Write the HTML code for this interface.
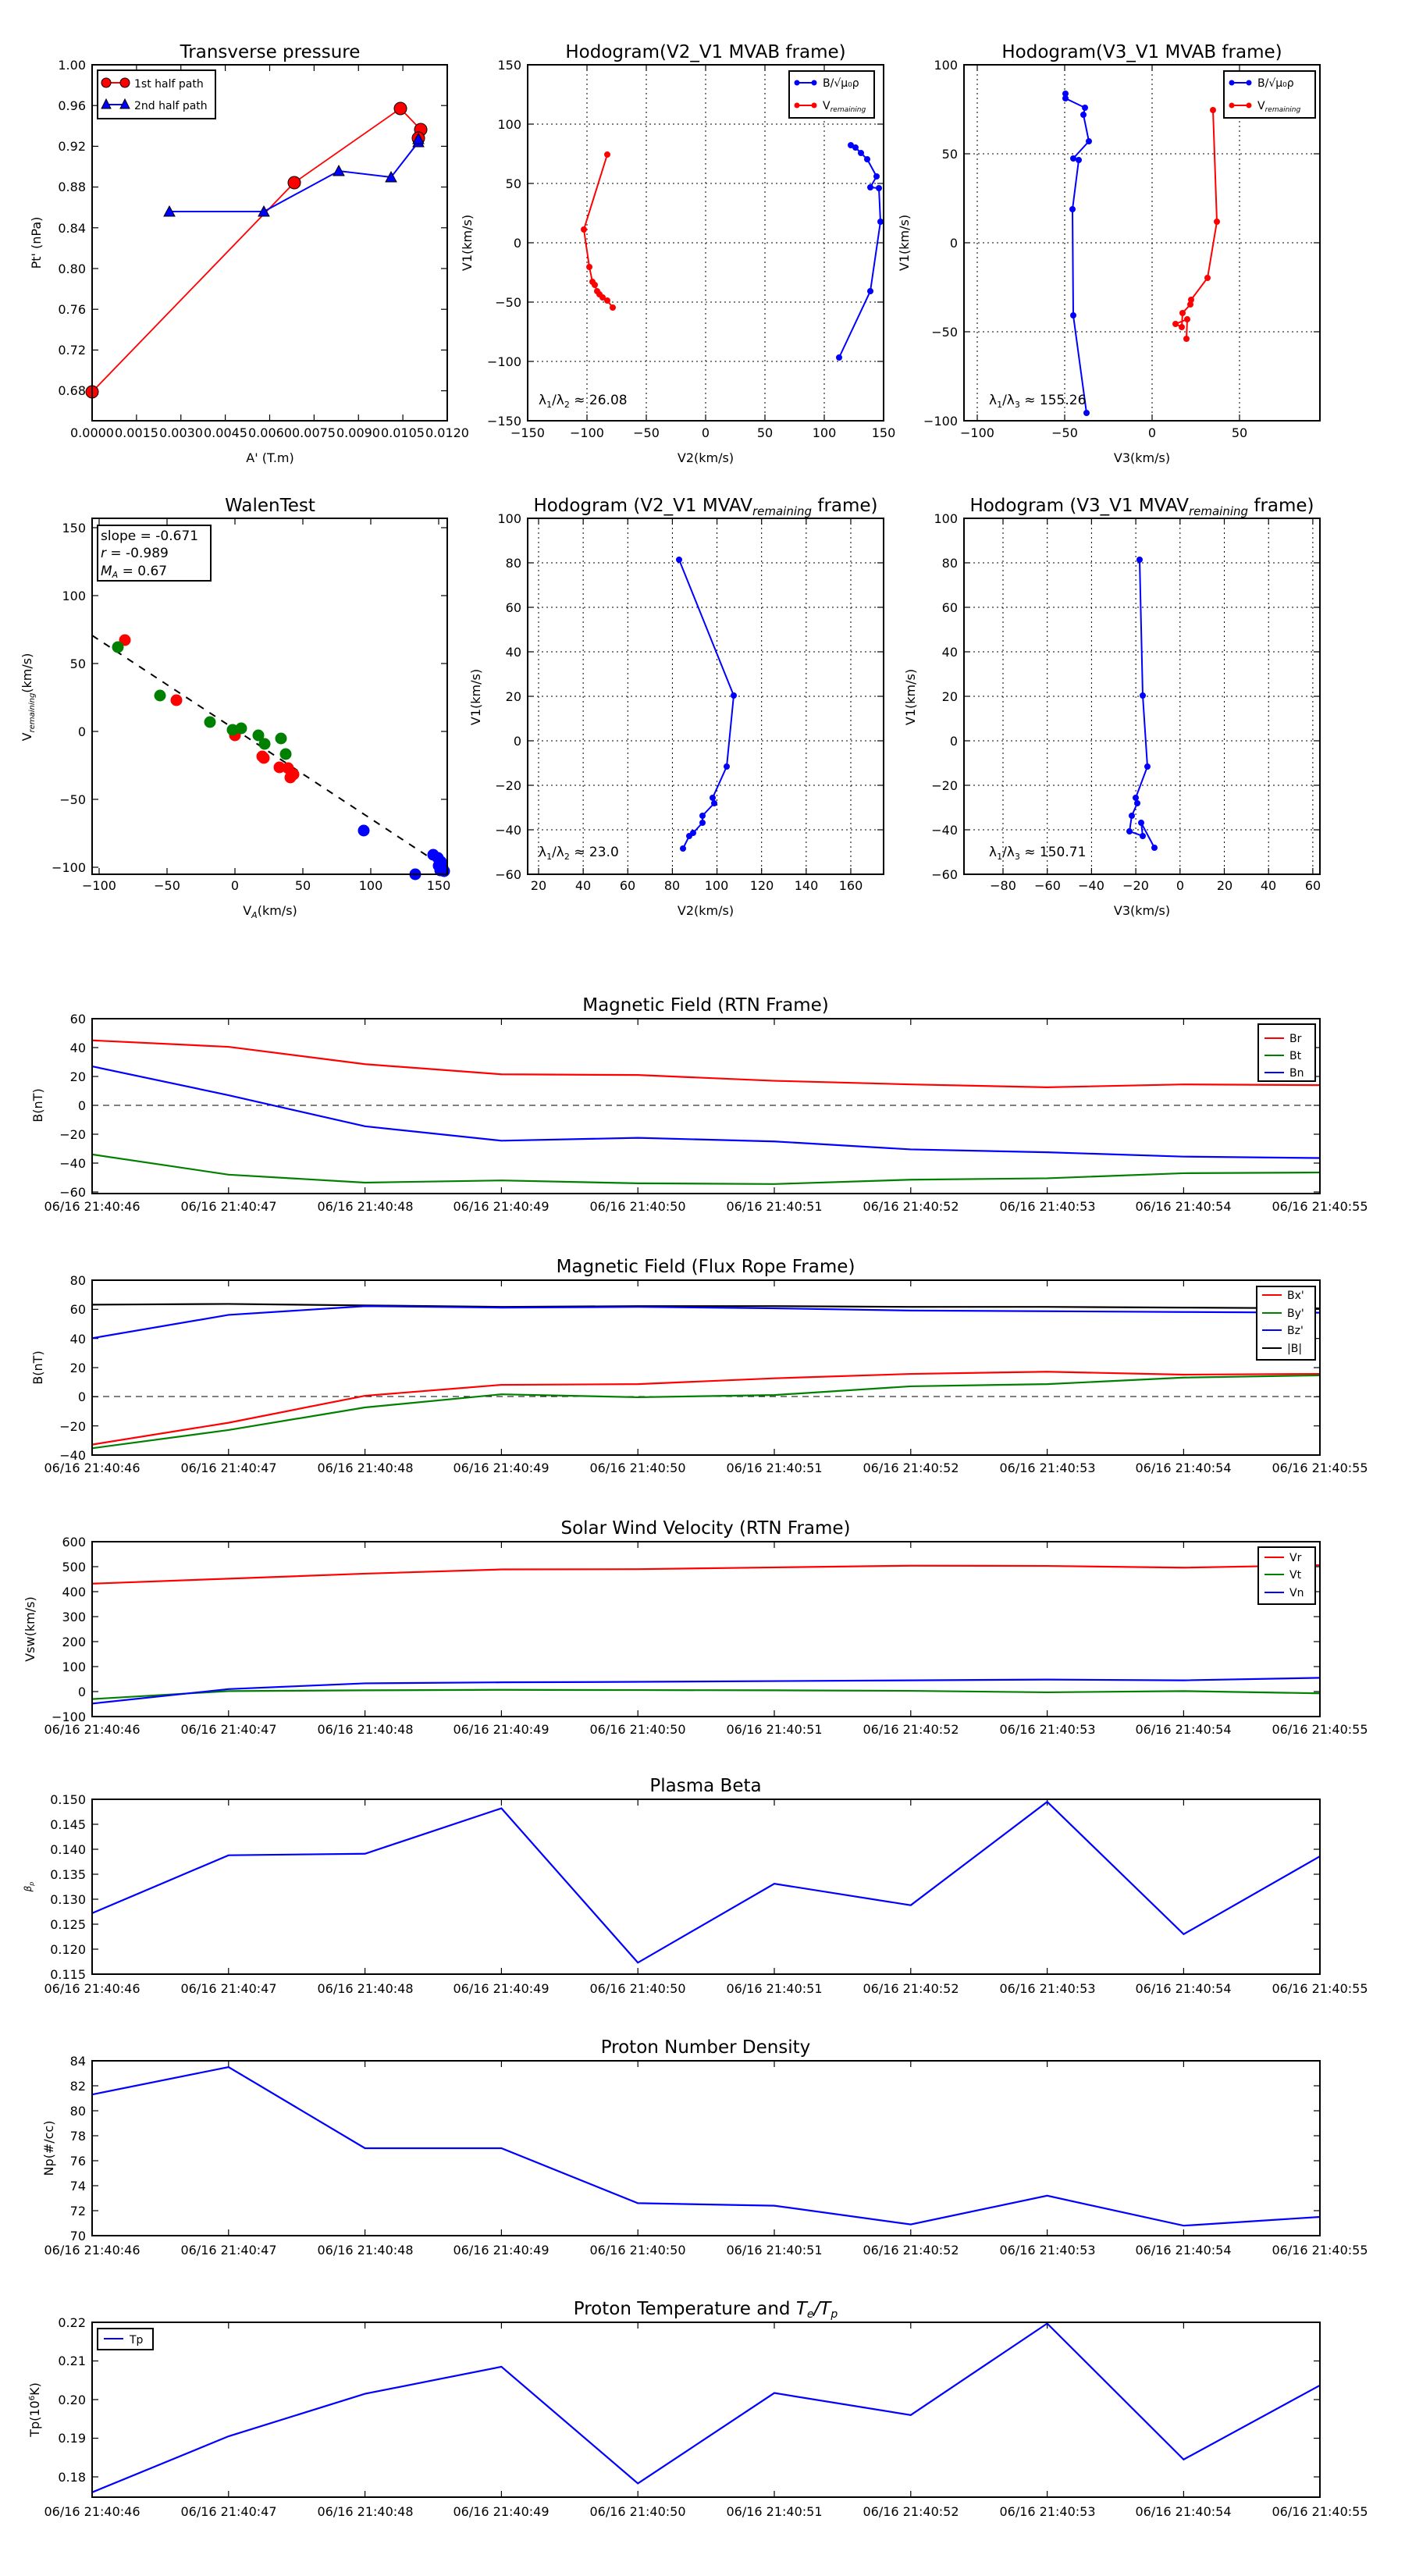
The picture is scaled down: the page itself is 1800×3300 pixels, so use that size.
<!DOCTYPE html>
<html><head><meta charset="utf-8">
<style>
html,body{margin:0;padding:0;background:#fff;}
svg{display:block;font-family:"DejaVu Sans","Liberation Sans",sans-serif;}
.t{font-size:16px;fill:#000;}
.ti{font-size:23px;fill:#000;text-anchor:middle;}
.lb{font-size:16px;fill:#000;text-anchor:middle;}
.r{text-anchor:end;}
.m{text-anchor:middle;}
</style></head>
<body>
<svg id="s" width="1800" height="3300" viewBox="0 0 1800 3300" xmlns="http://www.w3.org/2000/svg">
<rect width="1800" height="3300" fill="#fff"/>
<g id="shapes"></g>

<!-- ===== Row 1 ===== -->
<text class="ti" x="346" y="74">Transverse pressure</text>
<text class="ti" x="904" y="74">Hodogram(V2_V1 MVAB frame)</text>
<text class="ti" x="1463" y="74">Hodogram(V3_V1 MVAB frame)</text>

<!-- chart1 ticks -->
<g class="t r">
<text x="110" y="89">1.00</text><text x="110" y="141">0.96</text><text x="110" y="193">0.92</text>
<text x="110" y="245">0.88</text><text x="110" y="298">0.84</text><text x="110" y="350">0.80</text>
<text x="110" y="402">0.76</text><text x="110" y="454">0.72</text><text x="110" y="506">0.68</text>
</g>
<g class="t m">
<text x="118" y="560">0.0000</text><text x="175" y="560">0.0015</text><text x="232" y="560">0.0030</text>
<text x="289" y="560">0.0045</text><text x="346" y="560">0.0060</text><text x="402" y="560">0.0075</text>
<text x="459" y="560">0.0090</text><text x="516" y="560">0.0105</text><text x="573" y="560">0.0120</text>
</g>
<text class="lb" x="346" y="592">A' (T.m)</text>
<text class="lb" transform="translate(52,311) rotate(-90)">Pt' (nPa)</text>
<rect x="125" y="90" width="151" height="62" fill="#fff" stroke="#000" stroke-width="2"/>
<line x1="133" y1="106" x2="163" y2="106" stroke="red" stroke-width="2"/>
<circle cx="136" cy="106" r="6" fill="red" stroke="#000"/><circle cx="160" cy="106" r="6" fill="red" stroke="#000"/>
<text x="172" y="112" style="font-size:14px">1st half path</text>
<line x1="133" y1="134" x2="163" y2="134" stroke="blue" stroke-width="2"/>
<polygon points="136,127 142,139 130,139" fill="blue" stroke="#000"/><polygon points="160,127 166,139 154,139" fill="blue" stroke="#000"/>
<text x="172" y="140" style="font-size:14px">2nd half path</text>

<!-- chart2 -->
<g class="t r">
<text x="668" y="89">150</text><text x="668" y="165">100</text><text x="668" y="241">50</text>
<text x="668" y="317">0</text><text x="668" y="393">−50</text><text x="668" y="469">−100</text><text x="668" y="545">−150</text>
</g>
<g class="t m">
<text x="676" y="560">−150</text><text x="752" y="560">−100</text><text x="828" y="560">−50</text><text x="904" y="560">0</text>
<text x="980" y="560">50</text><text x="1056" y="560">100</text><text x="1132" y="560">150</text>
</g>
<text class="lb" x="904" y="592">V2(km/s)</text>
<text class="lb" transform="translate(604,311) rotate(-90)">V1(km/s)</text>
<text x="690" y="518" style="font-size:17px">λ<tspan style="font-size:11px" dy="4">1</tspan><tspan dy="-4">/λ</tspan><tspan style="font-size:11px" dy="4">2</tspan><tspan dy="-4"> ≈ 26.08</tspan></text>
<rect x="1011" y="91" width="109" height="60" fill="#fff" stroke="#000" stroke-width="2"/>
<line x1="1019" y1="106" x2="1045" y2="106" stroke="blue" stroke-width="2"/><circle cx="1021" cy="106" r="3.5" fill="blue"/><circle cx="1043" cy="106" r="3.5" fill="blue"/>
<text x="1054" y="111" style="font-size:14px">B/√μ₀ρ</text>
<line x1="1019" y1="135" x2="1045" y2="135" stroke="red" stroke-width="2"/><circle cx="1021" cy="135" r="3.5" fill="red"/><circle cx="1043" cy="135" r="3.5" fill="red"/>
<text x="1054" y="140" style="font-size:14px">V<tspan style="font-size:9px;font-style:italic" dy="3">remaining</tspan></text>

<!-- chart3 -->
<g class="t r">
<text x="1227" y="89">100</text><text x="1227" y="203">50</text><text x="1227" y="317">0</text>
<text x="1227" y="431">−50</text><text x="1227" y="545">−100</text>
</g>
<g class="t m">
<text x="1252" y="560">−100</text><text x="1364" y="560">−50</text><text x="1476" y="560">0</text><text x="1588" y="560">50</text>
</g>
<text class="lb" x="1463" y="592">V3(km/s)</text>
<text class="lb" transform="translate(1164,311) rotate(-90)">V1(km/s)</text>
<text x="1267" y="518" style="font-size:17px">λ<tspan style="font-size:11px" dy="4">1</tspan><tspan dy="-4">/λ</tspan><tspan style="font-size:11px" dy="4">3</tspan><tspan dy="-4"> ≈ 155.26</tspan></text>
<rect x="1568" y="91" width="117" height="60" fill="#fff" stroke="#000" stroke-width="2"/>
<line x1="1576" y1="106" x2="1602" y2="106" stroke="blue" stroke-width="2"/><circle cx="1578" cy="106" r="3.5" fill="blue"/><circle cx="1600" cy="106" r="3.5" fill="blue"/>
<text x="1611" y="111" style="font-size:14px">B/√μ₀ρ</text>
<line x1="1576" y1="135" x2="1602" y2="135" stroke="red" stroke-width="2"/><circle cx="1578" cy="135" r="3.5" fill="red"/><circle cx="1600" cy="135" r="3.5" fill="red"/>
<text x="1611" y="140" style="font-size:14px">V<tspan style="font-size:9px;font-style:italic" dy="3">remaining</tspan></text>

<!-- ===== Row 2 ===== -->
<text class="ti" x="346" y="655">WalenTest</text>
<text class="ti" x="904" y="655">Hodogram (V2_V1 MVAV<tspan style="font-size:15px;font-style:italic" dy="5">remaining</tspan><tspan dy="-5"> frame)</tspan></text>
<text class="ti" x="1463" y="655">Hodogram (V3_V1 MVAV<tspan style="font-size:15px;font-style:italic" dy="5">remaining</tspan><tspan dy="-5"> frame)</tspan></text>

<g class="t r">
<text x="110" y="682">150</text><text x="110" y="769">100</text><text x="110" y="856">50</text>
<text x="110" y="943">0</text><text x="110" y="1030">−50</text><text x="110" y="1117">−100</text>
</g>
<g class="t m">
<text x="127" y="1140">−100</text><text x="214" y="1140">−50</text><text x="301" y="1140">0</text>
<text x="388" y="1140">50</text><text x="475" y="1140">100</text><text x="562" y="1140">150</text>
</g>
<text class="lb" x="346" y="1172">V<tspan style="font-size:11px;font-style:italic" dy="4">A</tspan><tspan dy="-4">(km/s)</tspan></text>
<text class="lb" transform="translate(40,893) rotate(-90)">V<tspan style="font-size:10px;font-style:italic" dy="4">remaining</tspan><tspan dy="-4">(km/s)</tspan></text>
<rect x="125" y="673" width="145" height="71" fill="#fff" stroke="#000" stroke-width="2"/>
<text x="129" y="692" style="font-size:17px">slope = -0.671</text>
<text x="129" y="714" style="font-size:17px"><tspan style="font-style:italic">r</tspan> = -0.989</text>
<text x="129" y="737" style="font-size:17px"><tspan style="font-style:italic">M<tspan style="font-size:11px" dy="3">A</tspan></tspan><tspan dy="-3"> = 0.67</tspan></text>

<g class="t r">
<text x="668" y="670">100</text><text x="668" y="727">80</text><text x="668" y="784">60</text><text x="668" y="841">40</text>
<text x="668" y="898">20</text><text x="668" y="955">0</text><text x="668" y="1012">−20</text><text x="668" y="1069">−40</text><text x="668" y="1126">−60</text>
</g>
<g class="t m">
<text x="690" y="1140">20</text><text x="747" y="1140">40</text><text x="804" y="1140">60</text><text x="861" y="1140">80</text>
<text x="918" y="1140">100</text><text x="976" y="1140">120</text><text x="1033" y="1140">140</text><text x="1090" y="1140">160</text>
</g>
<text class="lb" x="904" y="1172">V2(km/s)</text>
<text class="lb" transform="translate(615,893) rotate(-90)">V1(km/s)</text>
<text x="690" y="1097" style="font-size:17px">λ<tspan style="font-size:11px" dy="4">1</tspan><tspan dy="-4">/λ</tspan><tspan style="font-size:11px" dy="4">2</tspan><tspan dy="-4"> ≈ 23.0</tspan></text>

<g class="t r">
<text x="1227" y="670">100</text><text x="1227" y="727">80</text><text x="1227" y="784">60</text><text x="1227" y="841">40</text>
<text x="1227" y="898">20</text><text x="1227" y="955">0</text><text x="1227" y="1012">−20</text><text x="1227" y="1069">−40</text><text x="1227" y="1126">−60</text>
</g>
<g class="t m">
<text x="1285" y="1140">−80</text><text x="1342" y="1140">−60</text><text x="1398" y="1140">−40</text><text x="1455" y="1140">−20</text>
<text x="1512" y="1140">0</text><text x="1569" y="1140">20</text><text x="1625" y="1140">40</text><text x="1682" y="1140">60</text>
</g>
<text class="lb" x="1463" y="1172">V3(km/s)</text>
<text class="lb" transform="translate(1172,893) rotate(-90)">V1(km/s)</text>
<text x="1267" y="1097" style="font-size:17px">λ<tspan style="font-size:11px" dy="4">1</tspan><tspan dy="-4">/λ</tspan><tspan style="font-size:11px" dy="4">3</tspan><tspan dy="-4"> ≈ 150.71</tspan></text>

<!-- ===== Time series ===== -->
<text class="ti" x="904" y="1295">Magnetic Field (RTN Frame)</text>
<text class="ti" x="904" y="1630">Magnetic Field (Flux Rope Frame)</text>
<text class="ti" x="904" y="1965">Solar Wind Velocity (RTN Frame)</text>
<text class="ti" x="904" y="2295">Plasma Beta</text>
<text class="ti" x="904" y="2630">Proton Number Density</text>
<text class="ti" x="904" y="2965">Proton Temperature and <tspan style="font-style:italic">T<tspan style="font-size:14px" dy="4">e</tspan><tspan dy="-4">/T</tspan><tspan style="font-size:14px" dy="4">p</tspan></tspan></text>

<g class="t r">
<text x="110" y="1311">60</text><text x="110" y="1348">40</text><text x="110" y="1385">20</text><text x="110" y="1422">0</text>
<text x="110" y="1459">−20</text><text x="110" y="1496">−40</text><text x="110" y="1533">−60</text>

<text x="110" y="1646">80</text><text x="110" y="1683">60</text><text x="110" y="1721">40</text><text x="110" y="1758">20</text>
<text x="110" y="1795">0</text><text x="110" y="1833">−20</text><text x="110" y="1870">−40</text>

<text x="110" y="1981">600</text><text x="110" y="2013">500</text><text x="110" y="2045">400</text><text x="110" y="2077">300</text>
<text x="110" y="2109">200</text><text x="110" y="2141">100</text><text x="110" y="2173">0</text><text x="110" y="2205">−100</text>

<text x="110" y="2311">0.150</text><text x="110" y="2343">0.145</text><text x="110" y="2375">0.140</text><text x="110" y="2407">0.135</text>
<text x="110" y="2439">0.130</text><text x="110" y="2471">0.125</text><text x="110" y="2503">0.120</text><text x="110" y="2535">0.115</text>

<text x="110" y="2646">84</text><text x="110" y="2678">82</text><text x="110" y="2710">80</text><text x="110" y="2742">78</text>
<text x="110" y="2774">76</text><text x="110" y="2806">74</text><text x="110" y="2838">72</text><text x="110" y="2870">70</text>

<text x="110" y="2981">0.22</text><text x="110" y="3030">0.21</text><text x="110" y="3080">0.20</text>
<text x="110" y="3129">0.19</text><text x="110" y="3179">0.18</text>
</g>

<g class="t m">
<g id="xl1">
<text x="118" y="1551">06/16 21:40:46</text><text x="293" y="1551">06/16 21:40:47</text><text x="468" y="1551">06/16 21:40:48</text>
<text x="642" y="1551">06/16 21:40:49</text><text x="817" y="1551">06/16 21:40:50</text><text x="992" y="1551">06/16 21:40:51</text>
<text x="1167" y="1551">06/16 21:40:52</text><text x="1342" y="1551">06/16 21:40:53</text><text x="1516" y="1551">06/16 21:40:54</text>
<text x="1691" y="1551">06/16 21:40:55</text>
</g>
<g transform="translate(0,335)">
<text x="118" y="1551">06/16 21:40:46</text><text x="293" y="1551">06/16 21:40:47</text><text x="468" y="1551">06/16 21:40:48</text>
<text x="642" y="1551">06/16 21:40:49</text><text x="817" y="1551">06/16 21:40:50</text><text x="992" y="1551">06/16 21:40:51</text>
<text x="1167" y="1551">06/16 21:40:52</text><text x="1342" y="1551">06/16 21:40:53</text><text x="1516" y="1551">06/16 21:40:54</text>
<text x="1691" y="1551">06/16 21:40:55</text>
</g>
<g transform="translate(0,670)">
<text x="118" y="1551">06/16 21:40:46</text><text x="293" y="1551">06/16 21:40:47</text><text x="468" y="1551">06/16 21:40:48</text>
<text x="642" y="1551">06/16 21:40:49</text><text x="817" y="1551">06/16 21:40:50</text><text x="992" y="1551">06/16 21:40:51</text>
<text x="1167" y="1551">06/16 21:40:52</text><text x="1342" y="1551">06/16 21:40:53</text><text x="1516" y="1551">06/16 21:40:54</text>
<text x="1691" y="1551">06/16 21:40:55</text>
</g>
<g transform="translate(0,1002)">
<text x="118" y="1551">06/16 21:40:46</text><text x="293" y="1551">06/16 21:40:47</text><text x="468" y="1551">06/16 21:40:48</text>
<text x="642" y="1551">06/16 21:40:49</text><text x="817" y="1551">06/16 21:40:50</text><text x="992" y="1551">06/16 21:40:51</text>
<text x="1167" y="1551">06/16 21:40:52</text><text x="1342" y="1551">06/16 21:40:53</text><text x="1516" y="1551">06/16 21:40:54</text>
<text x="1691" y="1551">06/16 21:40:55</text>
</g>
<g transform="translate(0,1337)">
<text x="118" y="1551">06/16 21:40:46</text><text x="293" y="1551">06/16 21:40:47</text><text x="468" y="1551">06/16 21:40:48</text>
<text x="642" y="1551">06/16 21:40:49</text><text x="817" y="1551">06/16 21:40:50</text><text x="992" y="1551">06/16 21:40:51</text>
<text x="1167" y="1551">06/16 21:40:52</text><text x="1342" y="1551">06/16 21:40:53</text><text x="1516" y="1551">06/16 21:40:54</text>
<text x="1691" y="1551">06/16 21:40:55</text>
</g>
<g transform="translate(0,1672)">
<text x="118" y="1551">06/16 21:40:46</text><text x="293" y="1551">06/16 21:40:47</text><text x="468" y="1551">06/16 21:40:48</text>
<text x="642" y="1551">06/16 21:40:49</text><text x="817" y="1551">06/16 21:40:50</text><text x="992" y="1551">06/16 21:40:51</text>
<text x="1167" y="1551">06/16 21:40:52</text><text x="1342" y="1551">06/16 21:40:53</text><text x="1516" y="1551">06/16 21:40:54</text>
<text x="1691" y="1551">06/16 21:40:55</text>
</g>
</g>

<text class="lb" transform="translate(54,1416) rotate(-90)">B(nT)</text>
<text class="lb" transform="translate(54,1752) rotate(-90)">B(nT)</text>
<text class="lb" transform="translate(44,2087) rotate(-90)">Vsw(km/s)</text>
<text class="lb" transform="translate(40,2417) rotate(-90)" style="font-size:12px;font-style:italic">β<tspan style="font-size:8px" dy="3">p</tspan></text>
<text class="lb" transform="translate(68,2752) rotate(-90)">Np(#/cc)</text>
<text class="lb" transform="translate(50,3087) rotate(-90)">Tp(10<tspan style="font-size:10px" dy="-6">6</tspan><tspan dy="6">K)</tspan></text>

<!-- legends -->
<rect x="1612" y="1312" width="73" height="73" fill="#fff" stroke="#000" stroke-width="2"/>
<line x1="1620" y1="1330" x2="1645" y2="1330" stroke="red" stroke-width="2"/><text x="1652" y="1335" style="font-size:14px">Br</text>
<line x1="1620" y1="1352" x2="1645" y2="1352" stroke="green" stroke-width="2"/><text x="1652" y="1357" style="font-size:14px">Bt</text>
<line x1="1620" y1="1374" x2="1645" y2="1374" stroke="blue" stroke-width="2"/><text x="1652" y="1379" style="font-size:14px">Bn</text>

<rect x="1610" y="1648" width="75" height="94" fill="#fff" stroke="#000" stroke-width="2"/>
<line x1="1617" y1="1659" x2="1642" y2="1659" stroke="red" stroke-width="2"/><text x="1649" y="1664" style="font-size:14px">Bx'</text>
<line x1="1617" y1="1682" x2="1642" y2="1682" stroke="green" stroke-width="2"/><text x="1649" y="1687" style="font-size:14px">By'</text>
<line x1="1617" y1="1704" x2="1642" y2="1704" stroke="blue" stroke-width="2"/><text x="1649" y="1709" style="font-size:14px">Bz'</text>
<line x1="1617" y1="1727" x2="1642" y2="1727" stroke="black" stroke-width="2"/><text x="1649" y="1732" style="font-size:14px">|B|</text>

<rect x="1612" y="1982" width="73" height="73" fill="#fff" stroke="#000" stroke-width="2"/>
<line x1="1620" y1="1995" x2="1645" y2="1995" stroke="red" stroke-width="2"/><text x="1652" y="2000" style="font-size:14px">Vr</text>
<line x1="1620" y1="2017" x2="1645" y2="2017" stroke="green" stroke-width="2"/><text x="1652" y="2022" style="font-size:14px">Vt</text>
<line x1="1620" y1="2040" x2="1645" y2="2040" stroke="blue" stroke-width="2"/><text x="1652" y="2045" style="font-size:14px">Vn</text>

<rect x="125" y="2983" width="71" height="27" fill="#fff" stroke="#000" stroke-width="2"/>
<line x1="133" y1="2996" x2="158" y2="2996" stroke="blue" stroke-width="2"/><text x="166" y="3002" style="font-size:14px">Tp</text>
</svg>

<script>
(function(){
var NS="http://www.w3.org/2000/svg",G=document.getElementById("shapes");
function el(n,a){var e=document.createElementNS(NS,n);for(var k in a)e.setAttribute(k,a[k]);G.appendChild(e);return e;}
function axes(x0,y0,x1,y1,xt,yt,grid){
  if(grid){
    xt.forEach(function(x){el("line",{x1:x,y1:y0,x2:x,y2:y1,stroke:"#000","stroke-width":1,"stroke-dasharray":"2,4"});});
    yt.forEach(function(y){el("line",{x1:x0,y1:y,x2:x1,y2:y,stroke:"#000","stroke-width":1,"stroke-dasharray":"2,4"});});
  }
  var L=8;
  xt.forEach(function(x){el("line",{x1:x,y1:y1,x2:x,y2:y1-L,stroke:"#000","stroke-width":1.2});el("line",{x1:x,y1:y0,x2:x,y2:y0+L,stroke:"#000","stroke-width":1.2});});
  yt.forEach(function(y){el("line",{x1:x0,y1:y,x2:x0+L,y2:y,stroke:"#000","stroke-width":1.2});el("line",{x1:x1,y1:y,x2:x1-L,y2:y,stroke:"#000","stroke-width":1.2});});
}
function frame(x0,y0,x1,y1){el("rect",{x:x0,y:y0,width:x1-x0,height:y1-y0,fill:"none",stroke:"#000","stroke-width":2});}
function rng(a,st,n){var r=[];for(var i=0;i<n;i++)r.push(a+i*st);return r;}
function pl(pts,c,w){el("polyline",{points:pts.map(function(p){return p.join(",")}).join(" "),fill:"none",stroke:c,"stroke-width":w||2});}
function dots(pts,c,r){pts.forEach(function(p){el("circle",{cx:p[0],cy:p[1],r:r,fill:c,stroke:c});});}

// chart 1
axes(118,83,573,539,rng(118,56.875,9),rng(83,52.2,9),false);
var red=[[118,502],[377,234],[513,139],[539,166],[536,177]];
var blu=[[217,271],[338,271],[434,219],[501,227],[536,182],[536,178]];
pl(red,"red",1.8);pl(blu,"blue",2);
red.forEach(function(p){el("circle",{cx:p[0],cy:p[1],r:8,fill:"red",stroke:"#000"});});
blu.forEach(function(p){el("polygon",{points:(p[0])+","+(p[1]-7)+" "+(p[0]+7)+","+(p[1]+6)+" "+(p[0]-7)+","+(p[1]+6),fill:"blue",stroke:"#000"});});
frame(118,83,573,539);

// chart 2
axes(676,83,1132,539,rng(676,76,7),rng(83,76,7),true);
var r2=[[778,198],[748,294],[755,342],[759,361],[762,365],[765,373],[768,377],[772,381],[778,385],[785,394]];
var b2=[[1090,186],[1096,189],[1103,196],[1111,204],[1123,226],[1115,240],[1126,241],[1128,284],[1115,373],[1075,458]];
pl(r2,"red",2);dots(r2,"red",3.5);pl(b2,"blue",2);dots(b2,"blue",3.5);
frame(676,83,1132,539);

// chart 3
axes(1235,83,1691,539,[1252,1364,1476,1588],[83,197,311,425,539],true);
var b3=[[1365,120],[1365,126],[1390,138],[1388,147],[1395,181],[1375,203],[1382,205],[1374,268],[1375,404],[1392,529]];
var r3=[[1554,141],[1559,284],[1547,356],[1526,384],[1525,390],[1515,401],[1514,419],[1506,415],[1521,409],[1520,434]];
pl(b3,"blue",2);dots(b3,"blue",3.5);pl(r3,"red",2);dots(r3,"red",3.5);
frame(1235,83,1691,539);

// walen
axes(118,664,573,1120,rng(127,87,6),rng(676,87,6),false);
el("line",{x1:118,y1:814,x2:562,y2:1106,stroke:"#000","stroke-width":2,"stroke-dasharray":"9,9"});
var wr=[[160,820],[226,897],[301,942],[336,969],[338,971],[358,983],[369,984],[372,996],[376,992]];
var wg=[[151,829],[205,891],[269,925],[298,935],[309,933],[331,942],[339,953],[360,946],[366,966]];
var wb=[[466,1064],[532,1120],[555,1095],[561,1099],[565,1104],[562,1109],[567,1112],[569,1116],[564,1115]];
dots(wr,"red",7);dots(wg,"green",7);dots(wb,"blue",7);
frame(118,664,573,1120);

// row2 mid
axes(676,664,1132,1120,rng(690,57.14,8),rng(664,57,9),true);
var m2=[[870,717],[940,891],[931,982],[913,1022],[915,1029],[900,1045],[900,1054],[888,1067],[883,1071],[875,1087]];
pl(m2,"blue",2);dots(m2,"blue",3.5);frame(676,664,1132,1120);
// row2 right
axes(1235,664,1691,1120,rng(1285,56.7,8),rng(664,57,9),true);
var m3=[[1460,717],[1464,891],[1470,982],[1455,1022],[1457,1029],[1450,1045],[1447,1065],[1464,1071],[1462,1054],[1479,1086]];
pl(m3,"blue",2);dots(m3,"blue",3.5);frame(1235,664,1691,1120);

// time series
var X=rng(118,174.8,10);
function ts(top,yt,series,zero){
  var bot=top+224;
  axes(118,top,1691,bot,X,yt,false);
  if(zero!==undefined)el("line",{x1:118,y1:zero,x2:1691,y2:zero,stroke:"#000","stroke-width":1,"stroke-dasharray":"8,6"});
  series.forEach(function(s){pl(s.v.map(function(v,i){return [X[i],s.f(v)];}),s.c,2.2);});
  frame(118,top,1691,bot);
}
var f1=function(v){return 1416-v*1.85;};
ts(1305,rng(1305,37,7),[
 {c:"red",f:f1,v:[45,40.5,28.5,21.5,21,17,14.5,12.5,14.5,14]},
 {c:"green",f:f1,v:[-34,-48,-53.5,-52,-54,-54.5,-51.5,-50.5,-47,-46.5]},
 {c:"blue",f:f1,v:[27,7,-14.5,-24.5,-22.5,-25,-30.5,-32.5,-35.5,-36.5]}],1416);
var f2=function(v){return 1789-v*1.867;};
ts(1640,rng(1640,37.33,7),[
 {c:"black",f:f2,v:[63,63.5,62.5,61.5,62,62,61.5,61.5,61,60.5]},
 {c:"red",f:f2,v:[-33,-18,0.5,8,8.5,12.5,15.5,17,15,15.5]},
 {c:"green",f:f2,v:[-35.5,-23,-7.5,1.5,-0.5,1,7,8.5,13,14.5]},
 {c:"blue",f:f2,v:[40,56,62,61,61.5,60.5,59,58.5,58,57.5]}],1789);
var f3=function(v){return 2167-v*0.32;};
ts(1975,rng(1975,32,8),[
 {c:"red",f:f3,v:[432,452,472,489,490,497,504,503,496,506]},
 {c:"green",f:f3,v:[-30,2,5,7,6,5,3,-3,2,-7]},
 {c:"blue",f:f3,v:[-48,10,33,37,39,42,45,48,45,55]}]);
ts(2305,rng(2305,32,8),[{c:"blue",f:function(v){return 2305+(0.150-v)*6400;},v:[.1272,.1388,.1391,.1482,.1173,.1331,.1288,.1495,.1230,.1386]}]);
ts(2640,rng(2640,32,8),[{c:"blue",f:function(v){return 2640+(84-v)*16;},v:[81.3,83.5,77,77,72.6,72.4,70.9,73.2,70.8,71.5]}]);
ts(2975,rng(2975,49.5,5),[{c:"blue",f:function(v){return 2975+(0.22-v)*4950;},v:[.176,.1905,.2015,.2085,.1783,.2017,.196,.2197,.1845,.2037]}]);
})();
</script>
</body></html>
